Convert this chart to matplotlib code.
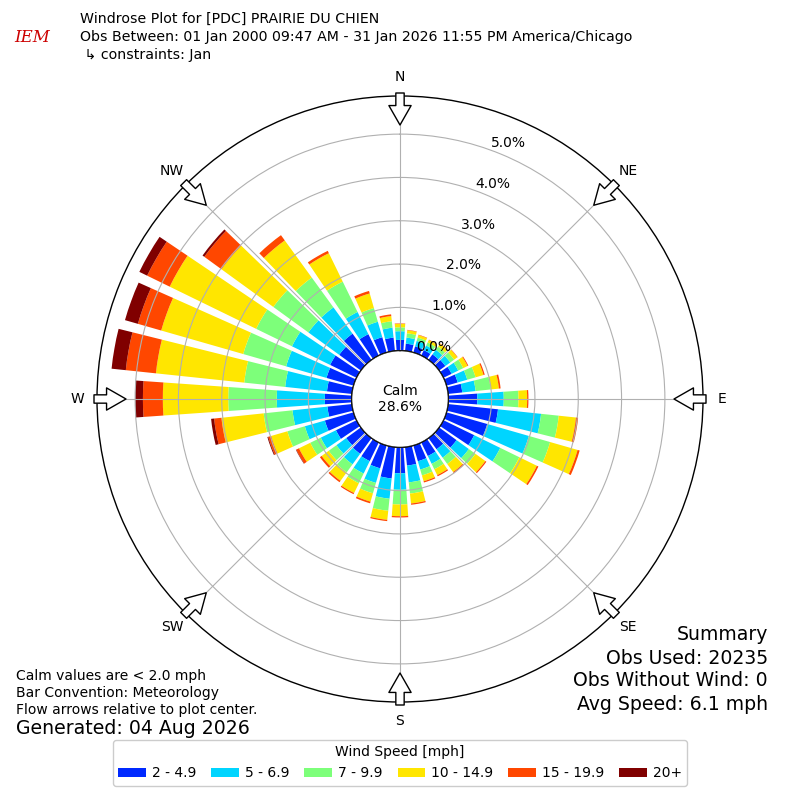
import numpy as np
import matplotlib
matplotlib.use("Agg")
import matplotlib.pyplot as plt
from matplotlib.patches import Circle

plt.rcParams['font.family'] = ['DejaVu Sans']

# wind direction bins (deg) and cumulative frequency (%) per speed class
directions = np.arange(0, 360, 10)
cum_2 = [0.25, 0.17, 0.15, 0.14, 0.16, 0.18, 0.21, 0.27, 0.33, 0.67, 1.16, 0.98,
         0.79, 0.50, 0.32, 0.35, 0.38, 0.43, 0.60, 0.73, 0.55, 0.48, 0.45, 0.42,
         0.53, 0.69, 0.57, 0.62, 0.58, 0.65, 0.68, 0.62, 0.75, 0.55, 0.37, 0.31]
cum_5 = [0.45, 0.31, 0.28, 0.26, 0.29, 0.32, 0.38, 0.50, 0.64, 1.28, 2.16, 1.98,
         1.46, 0.85, 0.56, 0.55, 0.58, 0.82, 0.98, 1.20, 0.90, 0.80, 0.75, 0.70,
         0.92, 1.17, 1.38, 1.73, 1.55, 1.62, 1.66, 1.50, 1.50, 1.12, 0.74, 0.54]
cum_7 = [0.54, 0.41, 0.36, 0.34, 0.38, 0.43, 0.51, 0.70, 0.99, 1.62, 2.57, 2.49,
         1.95, 1.04, 0.74, 0.69, 0.72, 1.08, 1.32, 1.48, 1.15, 1.05, 0.98, 0.92,
         1.19, 1.59, 2.05, 2.85, 2.50, 2.65, 2.58, 2.50, 2.35, 1.90, 1.07, 0.69]
cum_10 = [0.62, 0.48, 0.42, 0.40, 0.46, 0.52, 0.62, 0.89, 1.18, 1.82, 2.97, 3.15,
          2.40, 1.32, 0.97, 0.84, 0.86, 1.31, 1.59, 1.69, 1.35, 1.30, 1.22, 1.12,
          1.48, 1.98, 3.03, 4.36, 4.55, 4.62, 4.80, 3.98, 3.41, 2.63, 1.42, 0.81]
cum_15 = [0.63, 0.49, 0.43, 0.41, 0.47, 0.53, 0.64, 0.92, 1.22, 1.85, 3.02, 3.20,
          2.44, 1.35, 1.00, 0.87, 0.89, 1.34, 1.62, 1.72, 1.39, 1.33, 1.26, 1.17,
          1.55, 2.05, 3.20, 4.82, 5.25, 5.18, 5.38, 4.47, 3.56, 2.69, 1.48, 0.85]
cum_20 = [0.63, 0.49, 0.43, 0.41, 0.47, 0.53, 0.64, 0.92, 1.22, 1.85, 3.02, 3.20,
          2.44, 1.35, 1.00, 0.87, 0.89, 1.34, 1.62, 1.72, 1.39, 1.33, 1.26, 1.17,
          1.56, 2.07, 3.27, 5.00, 5.58, 5.49, 5.58, 4.52, 3.56, 2.69, 1.48, 0.85]
speed_labels = ["2 - 4.9", "5 - 6.9", "7 - 9.9", "10 - 14.9", "15 - 19.9", "20+"]
ring_values = [0, 1, 2, 3, 4, 5]
compass = ["N", "NE", "E", "SE", "S", "SW", "W", "NW"]
calm_pct = 28.6

colors = plt.cm.jet(np.linspace(0, 1, 7)[1:])
rmax = 5.88
rorigin = -1.115

fig = plt.figure(figsize=(8, 8), dpi=100)
ax = fig.add_axes([0.12125, 0.1225, 0.7575, 0.7575], projection='polar')
ax.set_theta_zero_location('N')
ax.set_theta_direction(-1)
ax.set_rorigin(rorigin)
ax.set_ylim(0, rmax)

theta = np.deg2rad(directions)
width = np.deg2rad(8)
cums = [cum_2, cum_5, cum_7, cum_10, cum_15, cum_20]
bottom = np.zeros(len(directions))
handles = []
for cum, col, lab in zip(cums, colors, speed_labels):
    cum = np.array(cum)
    h = ax.bar(theta, cum - bottom, width=width, bottom=bottom, color=col,
               edgecolor='none', label=lab, zorder=1)
    handles.append(h)
    bottom = cum

ax.set_yticks(ring_values)
ax.set_yticklabels(["%.1f%%" % v for v in ring_values], fontsize=10)
ax.set_rlabel_position(20)
ax.set_xticks(np.deg2rad(np.arange(0, 360, 45)))
ax.set_xticklabels(compass, fontsize=10)
ax.tick_params(axis='x', pad=3.5)
ax.grid(True, color='#b0b0b0', lw=0.8)
ax.spines['polar'].set_color('black')
ax.spines['polar'].set_linewidth(1.0)

# calm circle
calm = Circle((0.5, 0.5), 48.3 / 606, transform=ax.transAxes, fc='white',
              ec='black', lw=1.0, zorder=5)
ax.add_patch(calm)
ax.text(0.5, 0.5, "Calm\n%.1f%%" % calm_pct, transform=ax.transAxes,
        ha='center', va='center', fontsize=10, zorder=6, linespacing=1.2)


def rdata(px):
    return rorigin + px / 303.0 * (rmax - rorigin)


# flow arrows
for ang in np.arange(0, 360, 45):
    t = np.deg2rad(ang)
    ax.annotate('', xy=(t, rdata(274)), xytext=(t, rdata(306)),
                arrowprops=dict(arrowstyle='simple,head_length=0.7,head_width=0.8,tail_width=0.3',
                                fc='white', ec='black', lw=1.0, mutation_scale=20,
                                shrinkA=0, shrinkB=0),
                annotation_clip=False, zorder=7)

# header
fig.text(0.1, 1 - 19 / 800, "Windrose Plot for [PDC] PRAIRIE DU CHIEN", fontsize=10.15, va='center')
fig.text(0.1, 1 - 37 / 800,
         "Obs Between: 01 Jan 2000 09:47 AM - 31 Jan 2026 11:55 PM America/Chicago",
         fontsize=10.15, va='center')
fig.text(0.1, 1 - 55 / 800, " \u21b3 constraints: Jan", fontsize=10.15, va='center')
fig.text(0.018, 1 - 38 / 800, "IEM", fontsize=12, color='#cc0000', style='italic',
         family='DejaVu Serif', va='center')

# footer notes
fig.text(0.02, 1 - 676 / 800, "Calm values are < 2.0 mph", fontsize=10, va='center')
fig.text(0.02, 1 - 693 / 800, "Bar Convention: Meteorology", fontsize=10, va='center')
fig.text(0.02, 1 - 710 / 800, "Flow arrows relative to plot center.", fontsize=10, va='center')
fig.text(0.02, 1 - 729 / 800, "Generated: 04 Aug 2026", fontsize=13.6, va='center')

fig.text(0.96, 1 - 635 / 800, "Summary", fontsize=13.6, ha='right', va='center')
fig.text(0.96, 1 - 658 / 800, "Obs Used: 20235", fontsize=13.6, ha='right', va='center')
fig.text(0.96, 1 - 681 / 800, "Obs Without Wind: 0", fontsize=13.6, ha='right', va='center')
fig.text(0.96, 1 - 705 / 800, "Avg Speed: 6.1 mph", fontsize=13.6, ha='right', va='center')

fig.legend(handles=handles, labels=speed_labels, loc='lower center',
           bbox_to_anchor=(0.5, 0.0125), ncol=6, title="Wind Speed [mph]",
           fontsize=10, title_fontsize=10, handlelength=2.0, handletextpad=0.4,
           columnspacing=1.1, framealpha=1, borderaxespad=0.3)

fig.savefig("out.png", dpi=100)
